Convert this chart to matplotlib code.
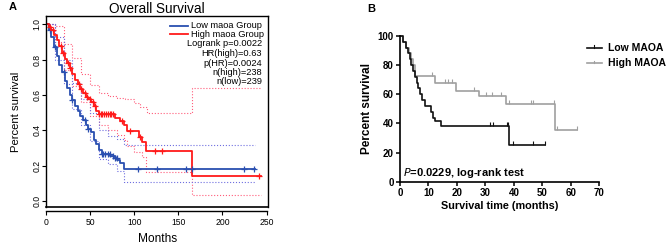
import numpy as np
import matplotlib
matplotlib.use("Agg")
import matplotlib.pyplot as plt

plt.rcParams['font.family'] = ['Liberation Sans', 'DejaVu Sans']

# ---- Panel A: TCGA-style KM (months, fraction surviving)
high_t = [0, 3, 6, 9, 12, 15, 18, 21, 24, 27, 30, 33, 36, 39, 42, 45, 48, 51, 54, 57, 60,
          78, 84, 88, 92, 105, 109, 113, 166, 244]
high_s = [1.0, 0.985, 0.965, 0.94, 0.91, 0.875, 0.84, 0.805, 0.78, 0.75, 0.72, 0.685, 0.66,
          0.635, 0.61, 0.59, 0.575, 0.56, 0.535, 0.51, 0.495,
          0.468, 0.45, 0.43, 0.396, 0.36, 0.336, 0.283, 0.143, 0.143]
high_cens = [5, 8, 17, 19, 25, 27, 37, 40, 44, 47, 50, 53, 55, 60, 62, 64, 66, 68, 70, 72,
             74, 76, 86, 95, 107, 123, 132, 242]
high_up_t = [0, 10, 20, 30, 40, 50, 60, 70, 80, 90, 100, 107, 114, 166, 244]
high_up_s = [1.0, 0.99, 0.89, 0.81, 0.72, 0.655, 0.61, 0.595, 0.585, 0.575, 0.555, 0.53,
             0.496, 0.638, 0.638]
high_lo_t = [0, 10, 20, 30, 40, 50, 60, 70, 80, 88, 92, 100, 109, 113, 166, 244]
high_lo_s = [1.0, 0.90, 0.74, 0.65, 0.56, 0.48, 0.43, 0.40, 0.375, 0.345, 0.31, 0.28, 0.25,
             0.165, 0.034, 0.034]

low_t = [0, 3, 6, 9, 12, 15, 18, 21, 24, 27, 30, 33, 36, 39, 42, 45, 48, 51, 54, 57, 60,
         63, 73, 78, 81, 84, 88, 237]
low_s = [1.0, 0.97, 0.93, 0.87, 0.82, 0.77, 0.73, 0.68, 0.64, 0.60, 0.57, 0.54, 0.51, 0.48,
         0.46, 0.43, 0.41, 0.39, 0.345, 0.32, 0.29, 0.265, 0.255, 0.245, 0.232, 0.213, 0.181,
         0.181]
low_cens = [4, 10, 20, 30, 44, 48, 63, 65, 67, 70, 72, 76, 78, 80, 104, 126, 159, 166, 225, 236]
low_up_t = [0, 10, 20, 30, 40, 50, 60, 70, 80, 88, 237]
low_up_s = [1.0, 0.93, 0.80, 0.67, 0.58, 0.50, 0.40, 0.37, 0.35, 0.317, 0.317]
low_lo_t = [0, 10, 20, 30, 40, 50, 60, 70, 80, 88, 237]
low_lo_s = [1.0, 0.80, 0.66, 0.52, 0.43, 0.34, 0.24, 0.21, 0.17, 0.105, 0.105]

stats_a = ["Logrank p=0.0022", "HR(high)=0.63", "p(HR)=0.0024", "n(high)=238", "n(low)=239"]

# ---- Panel B: cohort KM (months, percent)
b_low_t = [0, 1.2, 2.0, 2.8, 3.5, 4.0, 4.5, 5.2, 6.0, 6.3, 7.0, 7.8, 8.8, 11.0, 11.6, 12.2,
           14.4, 38.4, 51]
b_low_s = [100, 96, 92, 88, 84, 80, 76, 72, 68, 64, 60, 56, 52, 48, 44, 42, 38, 25.3, 25.3]
b_low_cens = [31.6, 32.8, 37.5, 38.0, 39.6, 46.6, 51]
b_high_t = [0, 1.0, 2.1, 3.0, 3.9, 4.6, 5.4, 12.4, 19.7, 27.9, 37.2, 54.4, 62.3]
b_high_s = [100, 96, 92, 88, 84.5, 80, 72.5, 67.5, 62.2, 59, 53, 35.3, 35.3]
b_high_cens = [11.1, 15.8, 17.0, 18.2, 26.0, 30.1, 32.2, 35.4, 38.3, 46.0, 46.6, 54.2, 55.0, 62.3]

W, H = 669, 250
RED, BLUE = "#ff1a1a", "#2a4fb0"
RED_CI, BLUE_CI = "#ff5c7a", "#6f6fe0"


def step_at(ts, ss, x):
    i = np.searchsorted(ts, x, side="right") - 1
    return np.asarray(ss)[np.clip(i, 0, len(ss) - 1)]


def fbox(x0, y0, x1, y1):
    return [x0 / W, 1 - y1 / H, (x1 - x0) / W, (y1 - y0) / H]


fig = plt.figure(figsize=(W / 100, H / 100), dpi=100)

# ================= Panel A =================
ax = fig.add_axes(fbox(46, 16, 268.3, 207))
ax.set_xlim(0, 252)
ax.set_ylim(-0.034, 1.047)
for t, s, c, lw, ls in [(high_up_t, high_up_s, RED_CI, 0.8, ':'), (high_lo_t, high_lo_s, RED_CI, 0.8, ':'),
                        (low_up_t, low_up_s, BLUE_CI, 0.8, ':'), (low_lo_t, low_lo_s, BLUE_CI, 0.8, ':'),
                        (low_t, low_s, BLUE, 1.3, '-'), (high_t, high_s, RED, 1.3, '-')]:
    ax.step(t, s, where='post', color=c, lw=lw, ls=ls)
ax.plot(low_cens, step_at(low_t, low_s, low_cens), ls='none', marker='+', ms=5, mew=0.9, color=BLUE)
ax.plot(high_cens, step_at(high_t, high_s, high_cens), ls='none', marker='+', ms=5, mew=0.9, color=RED)

ax.set_xticks([0, 50, 100, 150, 200, 250])
ax.set_yticks([0, 0.2, 0.4, 0.6, 0.8, 1.0])
ax.set_yticklabels(["0.0", "0.2", "0.4", "0.6", "0.8", "1.0"], rotation=90, va='center')
ax.tick_params(labelsize=6.2, length=3, width=0.8, pad=2)
ax.tick_params(axis='y', pad=0.5)
ax.spines['bottom'].set_position(('outward', 3))
ax.spines['bottom'].set_bounds(0, 250)
ax.plot([0, 1], [0, 0], transform=ax.transAxes, color='black', lw=1.2, clip_on=False)
for sp in ax.spines.values():
    sp.set_linewidth(1.0)
ax.set_title("Overall Survival", fontsize=9.8, pad=2)
ax.set_xlabel("Months", fontsize=8.6, labelpad=4)
ax.set_ylabel("Percent survival", fontsize=8.1, labelpad=8)

# ================= Panel B =================
bx = fig.add_axes(fbox(400, 36, 599.3, 181.7))
bx.set_xlim(0, 70)
bx.set_ylim(0, 100)
bx.step(b_high_t, b_high_s, where='post', color="#a0a0a0", lw=1.2, clip_on=False)
bx.step(b_low_t, b_low_s, where='post', color="#111111", lw=1.2, clip_on=False)
bx.plot(b_high_cens, step_at(b_high_t, b_high_s, b_high_cens), ls='none', marker=2, ms=3,
        mew=0.8, color="#a0a0a0", clip_on=False)
bx.plot(b_low_cens, step_at(b_low_t, b_low_s, b_low_cens), ls='none', marker=2, ms=3,
        mew=0.8, color="#111111", clip_on=False)
for sp in ['top', 'right']:
    bx.spines[sp].set_visible(False)
for sp in ['left', 'bottom']:
    bx.spines[sp].set_linewidth(1.2)
bx.set_xticks(range(0, 71, 10))
bx.set_yticks(range(0, 101, 20))
bx.tick_params(labelsize=7, length=3, width=1.1, pad=1.5)
for lab in bx.get_xticklabels() + bx.get_yticklabels():
    lab.set_fontweight('bold')
bx.set_xlabel("Survival time (months)", fontsize=7.8, fontweight='bold', labelpad=2)
bx.set_ylabel("Percent survival", fontsize=8.5, fontweight='bold', labelpad=3)
bx.text(1.2, 6, r"$\bf{\it{P}}$" + "=0.0229, log-rank test", fontsize=8, fontweight='bold',
        va='center', ha='left')

# ================= annotations in pixel space =================
ov = fig.add_axes([0, 0, 1, 1])
ov.set_xlim(0, W)
ov.set_ylim(H, 0)
ov.axis('off')
ov.text(13, 7, "A", fontsize=8, fontweight='bold', ha='center', va='center')
ov.text(371, 9, "B", fontsize=8, fontweight='bold', ha='center', va='center')

# legend A
ov.plot([170, 188], [26, 26], color=BLUE, lw=1.3)
ov.plot([170, 188], [34.3, 34.3], color=RED, lw=1.3)
ov.text(190.7, 26, "Low maoa Group", fontsize=6.7, va='center', ha='left')
ov.text(190.7, 34.3, "High maoa Group", fontsize=6.7, va='center', ha='left')
for i, s in enumerate(stats_a):
    ov.text(262, 44 + i * 9.5, s, fontsize=6.7, va='center', ha='right')

# legend B
for yy, c, lab in [(47.7, "#111111", "Low MAOA"), (63.3, "#a0a0a0", "High MAOA")]:
    ov.plot([586.7, 601.7], [yy, yy], color=c, lw=1.2)
    ov.plot([594.2, 594.2], [yy, yy - 2.5], color=c, lw=0.8)
    ov.text(608.3, yy, lab, fontsize=7.5, fontweight='bold', va='center', ha='left')

fig.savefig("out.png", dpi=100)
